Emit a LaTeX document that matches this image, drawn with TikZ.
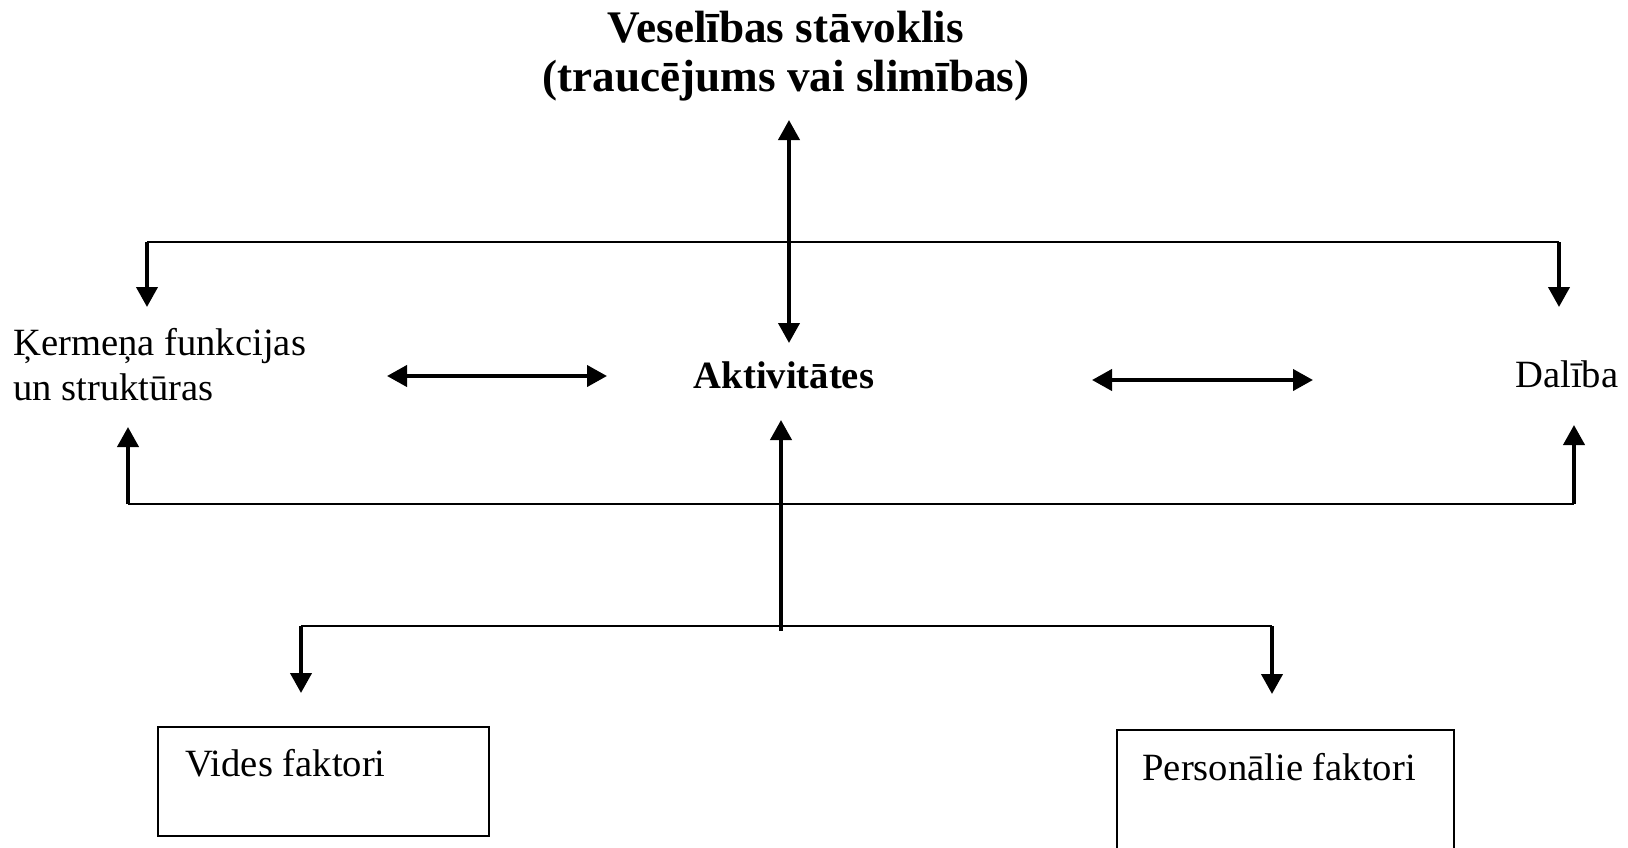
\documentclass[tikz,border=0pt]{standalone}
\usepackage{fontspec}
\setmainfont{Liberation Serif}
\usetikzlibrary{arrows.meta}
\begin{document}
\begin{tikzpicture}[x=0.5pt,y=-0.5pt,
  thinline/.style={line width=1pt},
  arr/.style={line width=2pt,-{Triangle[length=10pt,width=10.5pt]}},
  darr/.style={line width=2pt,{Triangle[length=10pt,width=10.5pt]}-{Triangle[length=10pt,width=10.5pt]}},
  lbl/.style={inner sep=0pt,font=\fontsize{19.3}{22.5}\selectfont},
  blbl/.style={inner sep=0pt,font=\fontsize{19.3}{22.5}\selectfont\bfseries},
  ttl/.style={inner sep=0pt,font=\fontsize{22.6}{24.5}\selectfont\bfseries,align=center},
  fbox/.style={draw,line width=1pt,inner sep=0pt}]
\useasboundingbox (0,0) rectangle (1628,847);
\clip (0,0) rectangle (1628,847);
\fill[white] (0,0) rectangle (1628,847);

% texts
\node[ttl,anchor=base] (title) at (786,91) {Veselības stāvoklis\\(traucējums vai slimības)};
\node[lbl,align=left,anchor=base west] (kf) at (13,400) {Ķermeņa funkcijas\\un struktūras};
\node[blbl,anchor=base] (akt) at (784,388) {Aktivitātes};
\node[lbl,anchor=base west] (dal) at (1515,387) {Dalība};

% boxes
\node[fbox,minimum width=165.5pt,minimum height=54.5pt] (vbox) at (323.5,781.5) {};
\node[lbl,anchor=base west] (vtxt) at (185,776) {Vides faktori};
\node[fbox,minimum width=168.5pt,minimum height=75pt] (pbox) at (1285.5,805) {};
\node[lbl,anchor=base west] (ptxt) at (1142,780) {Personālie faktori};

% coordinates
\coordinate (tl) at (147,242);
\coordinate (tr) at (1559,242);
\coordinate (kfT) at (147,307);
\coordinate (dalT) at (1559,307);
\coordinate (hsTop) at (789,120);
\coordinate (hsBot) at (789,343);
\coordinate (la) at (387,376);
\coordinate (lb) at (607,376);
\coordinate (ra) at (1092,380);
\coordinate (rb) at (1313,380);
\coordinate (bl) at (128,504);
\coordinate (br) at (1574,504);
\coordinate (kfB) at (128,427);
\coordinate (dalB) at (1574,425);
\coordinate (cB) at (781,631);
\coordinate (aktB) at (781,420);
\coordinate (ll) at (301,626);
\coordinate (lr) at (1272,626);
\coordinate (vT) at (301,693);
\coordinate (pT) at (1272,694);

% top distribution
\draw[thinline] (tl) -- (tr);
\draw[arr] (tl) -- (kfT);
\draw[arr] (tr) -- (dalT);
\draw[darr] (hsTop) -- (hsBot);

% horizontal double arrows
\draw[darr] (la) -- (lb);
\draw[darr] (ra) -- (rb);

% bottom distribution
\draw[thinline] (bl) -- (br);
\draw[arr] (bl) -- (kfB);
\draw[arr] (br) -- (dalB);
\draw[arr] (cB) -- (aktB);

% lower distribution
\draw[thinline] (ll) -- (lr);
\draw[arr] (ll) -- (vT);
\draw[arr] (lr) -- (pT);
\end{tikzpicture}
\end{document}
